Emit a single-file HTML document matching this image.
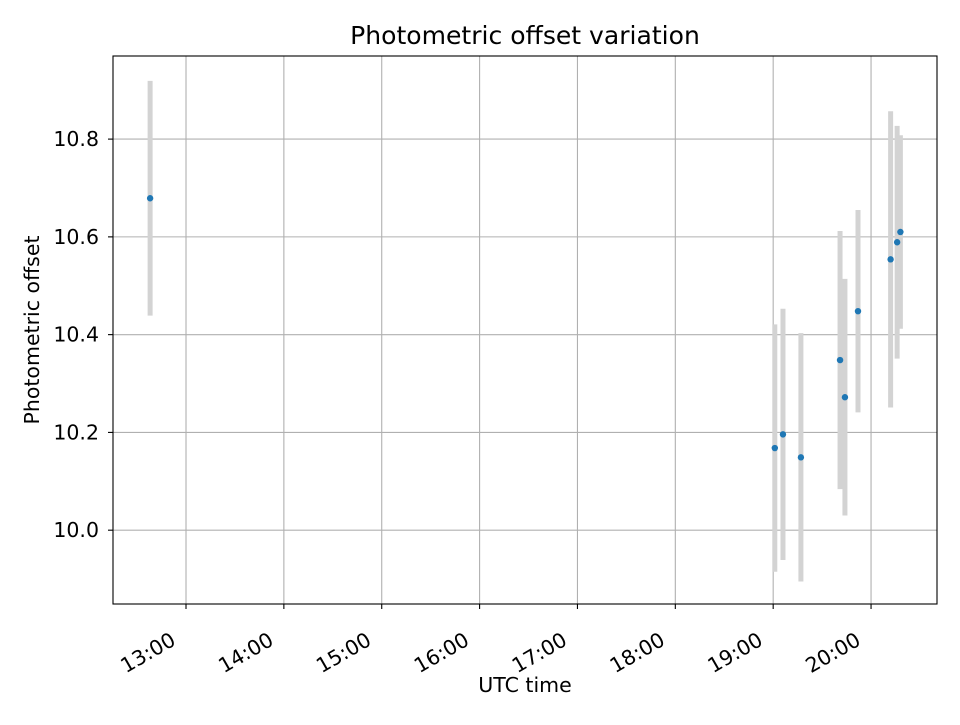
<!DOCTYPE html>
<html><head><meta charset="utf-8"><style>
body{margin:0;background:#fff;}
svg text{font-family:"DejaVu Sans","Liberation Sans",sans-serif;fill:#000;}
</style></head><body>
<svg id="chart" width="960" height="720" viewBox="0 0 960 720" xmlns="http://www.w3.org/2000/svg">
<rect width="960" height="720" fill="#fff"/>
<text x="525" y="44" text-anchor="middle" font-size="16.7" transform="translate(525,44) scale(1.5) translate(-525,-44)">Photometric offset variation</text>
<g id="grid"></g>
<g id="bars"></g>
<g id="pts"></g>
<rect x="113" y="56" width="824" height="548" fill="none" stroke="#000" stroke-width="1.1"/>
<g id="ticks"></g>
<text x="525" y="692" text-anchor="middle" font-size="20.5">UTC time</text>
<text transform="translate(39,330) rotate(-90)" text-anchor="middle" font-size="20.5">Photometric offset</text>
</svg>
<script>
const times = ["12:38","19:01","19:06","19:17","19:41","19:44","19:52","20:12","20:16","20:18"];
const offsets = [10.679,10.168,10.196,10.149,10.348,10.272,10.448,10.554,10.589,10.610];
const errors = [0.24,0.253,0.257,0.254,0.264,0.242,0.207,0.303,0.238,0.198];
const xTicks = ["13:00","14:00","15:00","16:00","17:00","18:00","19:00","20:00"];
const yTicks = [10.0,10.2,10.4,10.6,10.8];

const L=113,R=937,T=56,B=604;
const xMin=12.254,xMax=20.674,yMin=9.849,yMax=10.970;
function hrs(s){const p=s.split(':');return +p[0]+(+p[1])/60;}
function X(h){return L+(h-xMin)/(xMax-xMin)*(R-L);}
function Y(v){return B-(v-yMin)/(yMax-yMin)*(B-T);}
const NS="http://www.w3.org/2000/svg";
function mk(tag,attrs,parent){const e=document.createElementNS(NS,tag);for(const k in attrs)e.setAttribute(k,attrs[k]);parent.appendChild(e);return e;}
const grid=document.getElementById('grid'),ticks=document.getElementById('ticks'),bars=document.getElementById('bars'),pts=document.getElementById('pts');
xTicks.forEach(t=>{
  const x=X(hrs(t));
  const g=mk('line',{x1:x,x2:x,y1:T,y2:B,stroke:'#b0b0b0','stroke-width':1.1},grid);
  
  
  const tk=mk('line',{x1:x,x2:x,y1:B,y2:B+5,stroke:'#000','stroke-width':1.1},ticks);
  
  
  const ax=x-9, ay=B+40;
  const tx=mk('text',{x:ax,y:ay,'text-anchor':'end','font-size':20.5,transform:`rotate(-30 ${ax} ${ay})`},ticks);
  tx.textContent=t;
  
  
});
yTicks.forEach(v=>{
  const y=Y(v);
  const g=mk('line',{x1:L,x2:R,y1:y,y2:y,stroke:'#b0b0b0','stroke-width':1.1},grid);
  
  
  const tk=mk('line',{x1:L-5,x2:L,y1:y,y2:y,stroke:'#000','stroke-width':1.1},ticks);
  
  
  const tx=mk('text',{x:L-14,y:y+7,'text-anchor':'end','font-size':20.5},ticks);
  tx.textContent=v.toFixed(1);
  
  
});
times.forEach((t,i)=>{
  const x=X(hrs(t));
  const b=mk('line',{x1:x,x2:x,y1:Y(offsets[i]+errors[i]),y2:Y(offsets[i]-errors[i]),stroke:'#d3d3d3','stroke-width':5},bars);
  
  
  const c=mk('circle',{cx:x,cy:Y(offsets[i]),r:3.2,fill:'#1f77b4'},pts);
  
  
});
</script>
</body></html>
